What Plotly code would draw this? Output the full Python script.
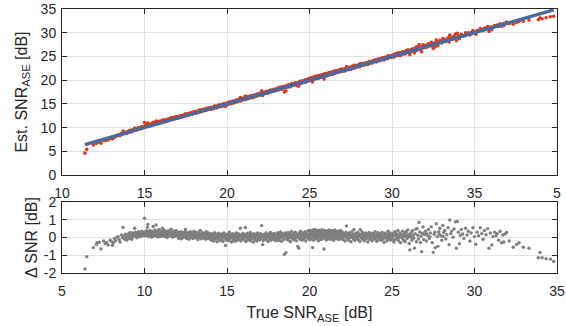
import plotly.graph_objects as go

# (true SNR_ASE [dB], delta SNR [dB]), segment by segment
seg_low = [
    (6.39, -1.77), (6.50, -1.08), (6.90, -0.57), (7.08, -0.40), (7.12, -0.30), (7.26, -0.27),
    (7.36, -0.65), (7.52, -0.20), (7.62, -0.35), (7.70, -0.28), (7.80, -0.42), (7.92, -0.15),
    (8.00, -0.22), (8.05, -0.44), (8.12, -0.30), (8.17, -0.05), (8.25, -0.18), (8.33, 0.02),
    (8.40, 0.05), (8.46, -0.12), (8.52, -0.25), (8.60, 0.14), (8.66, -0.02), (8.70, 0.57),
    (8.74, 0.08), (8.80, -0.10), (8.85, 0.18), (8.90, 0.02), (8.93, -0.15),
]
seg_9_12 = [
    (9.00, 0.10), (9.04, 0.22), (9.07, -0.05), (9.10, 0.15), (9.13, 0.28), (9.16, 0.02),
    (9.20, 0.18), (9.23, -0.10), (9.26, 0.12), (9.30, 0.25), (9.33, 0.05), (9.37, 0.20),
    (9.40, 0.52), (9.42, 0.08), (9.46, 0.30), (9.50, 0.14), (9.53, -0.02), (9.56, 0.22),
    (9.60, 0.10), (9.63, 0.33), (9.66, 0.18), (9.70, 0.04), (9.73, 0.26), (9.76, 0.12),
    (9.80, 0.20), (9.83, 0.35), (9.86, 0.08), (9.90, 0.16), (9.93, 0.28), (9.96, 0.11),
    (10.00, 1.08), (10.01, 0.19), (10.03, 0.30), (10.06, 0.10), (10.09, 0.24), (10.12, 0.38),
    (10.15, 0.14), (10.18, 0.57), (10.20, 0.74), (10.22, 0.22), (10.25, 0.05), (10.28, 0.31),
    (10.31, 0.17), (10.34, 0.40), (10.37, 0.12), (10.40, 0.26), (10.43, 0.02), (10.46, 0.35),
    (10.49, 0.20), (10.52, 0.62), (10.55, 0.15), (10.58, 0.29), (10.61, 0.08), (10.64, 0.42),
    (10.67, 0.22), (10.70, 0.70), (10.72, 0.11), (10.75, 0.33), (10.78, 0.18), (10.81, 0.03),
    (10.84, 0.27), (10.87, 0.45), (10.90, 0.14), (10.93, 0.24), (10.96, 0.06), (10.99, 0.36),
    (11.02, 0.19), (11.05, 0.28), (11.08, 0.52), (11.10, 0.10), (11.13, 0.31), (11.16, 0.16),
    (11.19, 0.42), (11.22, 0.05), (11.25, 0.23), (11.28, 0.34), (11.31, 0.12), (11.34, 0.27),
    (11.37, 0.00), (11.40, 0.20), (11.43, 0.38), (11.46, 0.15), (11.49, 0.25), (11.52, 0.08),
    (11.55, 0.32), (11.58, 0.18), (11.61, 0.46), (11.64, 0.11), (11.67, 0.26), (11.70, 0.02),
    (11.73, 0.21), (11.76, 0.35), (11.79, 0.13), (11.82, 0.28), (11.85, 0.06), (11.88, 0.19),
    (11.91, 0.40), (11.94, 0.16), (11.97, 0.24),
]
seg_12_16 = [
    (12.00, 0.10), (12.03, 0.30), (12.06, -0.05), (12.09, 0.18), (12.12, 0.25), (12.15, 0.04),
    (12.18, 0.14), (12.21, 0.33), (12.24, -0.08), (12.27, 0.20), (12.30, 0.09), (12.33, 0.27),
    (12.36, 0.01), (12.39, 0.16), (12.42, 0.30), (12.45, 0.07), (12.48, 0.45), (12.51, 0.22),
    (12.54, -0.04), (12.57, 0.13), (12.60, 0.28), (12.63, 0.05), (12.66, 0.19), (12.69, -0.10),
    (12.72, 0.24), (12.75, 0.11), (12.78, 0.32), (12.81, 0.02), (12.84, 0.17), (12.87, 0.08),
    (12.90, 0.26), (12.93, -0.06), (12.96, 0.14), (12.99, 0.36), (13.02, 0.06), (13.05, 0.21),
    (13.08, -0.02), (13.11, 0.12), (13.14, 0.29), (13.17, 0.03), (13.20, 0.18), (13.23, -0.12),
    (13.26, 0.23), (13.29, 0.09), (13.32, 0.31), (13.35, 0.00), (13.38, 0.40), (13.41, 0.15),
    (13.44, -0.07), (13.47, 0.20), (13.50, 0.07), (13.53, 0.27), (13.56, -0.03), (13.59, 0.12),
    (13.62, 0.24), (13.65, 0.04), (13.68, 0.17), (13.71, -0.10), (13.74, 0.33), (13.77, 0.08),
    (13.80, 0.19), (13.83, -0.05), (13.86, 0.13), (13.89, 0.26), (13.92, 0.01), (13.95, 0.16),
    (13.98, -0.08),
    (14.01, 0.10), (14.04, -0.15), (14.07, 0.22), (14.10, 0.02), (14.13, -0.06), (14.16, 0.16),
    (14.19, -0.20), (14.22, 0.08), (14.25, 0.27), (14.28, -0.10), (14.31, 0.05), (14.34, 0.18),
    (14.37, -0.03), (14.40, -0.24), (14.43, 0.12), (14.46, 0.00), (14.49, 0.24), (14.52, -0.12),
    (14.55, 0.07), (14.58, 0.15), (14.61, -0.18), (14.64, 0.03), (14.67, 0.20), (14.70, -0.07),
    (14.73, 0.11), (14.76, -0.22), (14.79, 0.06), (14.82, 0.25), (14.85, -0.02), (14.88, 0.14),
    (14.91, -0.45), (14.94, -0.14), (14.97, 0.09), (15.00, 0.19), (15.03, -0.05), (15.06, 0.04),
    (15.09, -0.19), (15.12, 0.13), (15.15, 0.30), (15.18, -0.09), (15.21, 0.01), (15.24, 0.17),
    (15.27, -0.25), (15.30, 0.07), (15.33, -0.02), (15.36, 0.22), (15.39, -0.13), (15.42, 0.10),
    (15.45, 0.03), (15.48, -0.21), (15.51, 0.15), (15.54, -0.06), (15.57, 0.26), (15.60, 0.05),
    (15.63, -0.16), (15.66, 0.12), (15.69, -0.01), (15.72, 0.20), (15.75, -0.10), (15.78, 0.08),
    (15.81, 0.52), (15.84, -0.20), (15.87, 0.14), (15.90, 0.02), (15.93, -0.08), (15.96, 0.23),
    (15.99, 0.06),
]
seg_16_20 = [
    (16.02, -0.12), (16.05, 0.18), (16.08, 0.04), (16.11, 0.56), (16.14, -0.22), (16.17, 0.10),
    (16.20, -0.03), (16.23, 0.24), (16.26, -0.15), (16.29, 0.07), (16.32, 0.16), (16.35, -0.08),
    (16.38, 0.01), (16.41, 0.28), (16.44, -0.18), (16.47, 0.12), (16.50, -0.05), (16.53, 0.19),
    (16.56, 0.03), (16.59, -0.26), (16.62, 0.09), (16.65, 0.21), (16.68, -0.11), (16.71, 0.05),
    (16.74, -0.02), (16.77, 0.17), (16.80, -0.20), (16.83, 0.11), (16.86, 0.26), (16.89, -0.07),
    (16.92, 0.02), (16.95, 0.14), (16.98, -0.14), (17.01, 0.08), (17.04, 0.22), (17.07, -0.04),
    (17.10, 0.67), (17.13, 0.13), (17.16, -0.40), (17.19, -0.18), (17.22, 0.05), (17.25, 0.19),
    (17.28, -0.09), (17.31, 0.10), (17.34, 0.00), (17.37, 0.25), (17.40, -0.13), (17.43, 0.06),
    (17.46, 0.16), (17.49, -0.23), (17.52, 0.03), (17.55, 0.20), (17.58, -0.06), (17.61, 0.12),
    (17.64, 0.29), (17.67, -0.16), (17.70, 0.07), (17.73, -0.01), (17.76, 0.18), (17.79, -0.10),
    (17.82, 0.09), (17.85, 0.23), (17.88, -0.04), (17.91, 0.13), (17.94, -0.19), (17.97, 0.04),
    (18.00, 0.15), (18.03, -0.08), (18.06, 0.27), (18.09, 0.02), (18.12, -0.17), (18.15, 0.19),
    (18.18, 0.08), (18.21, -0.05), (18.24, 0.31), (18.27, 0.11), (18.30, -0.21), (18.33, 0.05),
    (18.36, 0.22), (18.39, -0.02), (18.42, 0.14), (18.45, -0.12), (18.48, -0.95), (18.51, 0.25),
    (18.54, 0.07), (18.57, -0.85), (18.60, 0.17), (18.63, -0.09), (18.66, 0.03), (18.69, 0.29),
    (18.72, -0.16), (18.75, 0.12), (18.78, 0.00), (18.81, 0.21), (18.84, -0.24), (18.87, 0.09),
    (18.90, 0.34), (18.93, -0.04), (18.96, 0.16), (18.99, 0.04), (19.02, -0.13), (19.05, 0.24),
    (19.08, 0.10), (19.11, -0.07), (19.14, 0.30), (19.17, 0.06), (19.20, -0.19), (19.23, 0.18),
    (19.26, 0.01), (19.29, -0.50), (19.32, 0.13), (19.35, -0.60), (19.38, 0.27), (19.41, -0.10),
    (19.44, 0.08), (19.47, 0.36), (19.50, -0.02), (19.53, 0.19), (19.56, -0.15), (19.59, 0.11),
    (19.62, 0.26), (19.65, -0.06), (19.68, 0.15), (19.71, 0.03), (19.74, 0.32), (19.77, -0.20),
    (19.80, 0.09), (19.83, 0.21), (19.86, -0.03), (19.89, 0.13), (19.92, 0.38), (19.95, 0.05),
    (19.98, -0.11),
]
seg_20_22 = [
    (20.00, 0.22), (20.02, 0.05), (20.04, 0.40), (20.06, -0.10), (20.08, 0.16), (20.10, 0.30),
    (20.12, -0.02), (20.14, 0.25), (20.16, 0.09), (20.18, -0.57), (20.20, 0.43), (20.22, 0.12),
    (20.24, -0.15), (20.26, 0.20), (20.28, 0.35), (20.30, 0.02), (20.32, 0.18), (20.34, 0.45),
    (20.36, -0.08), (20.38, 0.27), (20.40, 0.10), (20.42, 0.38), (20.44, -0.05), (20.46, 0.14),
    (20.48, 0.31), (20.50, 0.06), (20.52, 0.23), (20.54, -0.18), (20.56, 0.41), (20.58, 0.11),
    (20.60, 0.28), (20.62, 0.00), (20.64, 0.19), (20.66, 0.36), (20.68, -0.12), (20.70, 0.15),
    (20.72, 0.26), (20.74, 0.04), (20.76, 0.44), (20.78, 0.13), (20.80, -0.07), (20.82, 0.22),
    (20.84, 0.33), (20.86, 0.08), (20.88, -0.65), (20.90, 0.17), (20.92, 0.40), (20.94, -0.02),
    (20.96, 0.25), (20.98, 0.10), (21.00, 0.32), (21.02, -0.14), (21.04, 0.19), (21.06, 0.06),
    (21.08, 0.37), (21.10, 0.14), (21.12, -0.04), (21.14, 0.28), (21.16, 0.09), (21.18, 0.43),
    (21.20, 0.18), (21.22, -0.10), (21.24, 0.23), (21.26, 0.02), (21.28, 0.34), (21.30, 0.12),
    (21.32, 0.26), (21.34, -0.06), (21.36, 0.16), (21.38, 0.39), (21.40, 0.07), (21.42, 0.21),
    (21.44, -0.16), (21.46, 0.30), (21.48, 0.11), (21.50, 0.03), (21.52, 0.24), (21.54, 0.42),
    (21.56, 0.08), (21.58, -0.08), (21.60, 0.19), (21.62, 0.33), (21.64, 0.05), (21.66, 0.15),
    (21.68, 0.27), (21.70, -0.03), (21.72, 0.12), (21.74, 0.36), (21.76, 0.20), (21.78, -0.12),
    (21.80, 0.09), (21.82, 0.29), (21.84, 0.01), (21.86, 0.17), (21.88, 0.40), (21.90, 0.06),
    (21.92, 0.22), (21.94, -0.07), (21.96, 0.14), (21.98, 0.31),
]
seg_22_25 = [
    (22.00, 0.10), (22.03, -0.12), (22.06, 0.24), (22.09, 0.04), (22.12, 0.17), (22.15, -0.20),
    (22.18, 0.08), (22.21, 0.30), (22.24, 0.65), (22.27, -0.04), (22.30, 0.13), (22.33, 0.22),
    (22.36, -0.15), (22.39, 0.06), (22.42, 0.27), (22.45, -0.02), (22.48, 0.15), (22.51, -0.24),
    (22.54, 0.09), (22.57, 0.33), (22.60, 0.01), (22.63, 0.19), (22.66, -0.09), (22.69, 0.45),
    (22.72, 0.11), (22.75, -0.17), (22.78, 0.05), (22.81, 0.25), (22.84, -0.05), (22.87, 0.14),
    (22.90, 0.02), (22.93, 0.28), (22.96, -0.13), (22.99, 0.07), (23.02, 0.20), (23.05, -0.22),
    (23.08, 0.44), (23.11, 0.10), (23.14, -0.03), (23.17, 0.16), (23.20, 0.31), (23.23, -0.10),
    (23.26, 0.04), (23.29, 0.21), (23.32, -0.18), (23.35, 0.12), (23.38, 0.00), (23.41, 0.26),
    (23.44, -0.07), (23.47, 0.09), (23.50, 0.18), (23.53, -0.25), (23.56, 0.03), (23.59, 0.14),
    (23.62, 0.29), (23.65, -0.11), (23.68, 0.06), (23.71, 0.20), (23.74, -0.02), (23.77, 0.11),
    (23.80, -0.19), (23.83, 0.24), (23.86, 0.01), (23.89, 0.15), (23.92, -0.08), (23.95, 0.08),
    (23.98, 0.32), (24.01, -0.04), (24.04, 0.13), (24.07, -0.21), (24.10, 0.19), (24.13, 0.05),
    (24.16, 0.27), (24.19, -0.13), (24.22, 0.09), (24.25, -0.01), (24.28, 0.22), (24.31, 0.12),
    (24.34, -0.16), (24.37, 0.03), (24.40, 0.30), (24.43, 0.07), (24.46, -0.09), (24.49, 0.16),
    (24.52, -0.27), (24.55, 0.10), (24.58, 0.24), (24.61, -0.03), (24.64, 0.14), (24.67, 0.04),
    (24.70, -0.18), (24.73, 0.20), (24.76, 0.35), (24.79, -0.06), (24.82, 0.11), (24.85, 0.02),
    (24.88, 0.26), (24.91, -0.14), (24.94, 0.08), (24.97, 0.17),
]
seg_25_29 = [
    (25.00, -0.05), (25.02, 0.15), (25.04, 0.22), (25.08, 0.08), (25.10, -0.14), (25.12, -0.25),
    (25.16, 0.33), (25.20, 0.12), (25.22, 0.28), (25.24, -0.10), (25.28, 0.18), (25.30, 0.05),
    (25.32, 0.02), (25.36, 0.40), (25.40, -0.18), (25.42, -0.02), (25.44, 0.09), (25.48, 0.25),
    (25.50, 0.19), (25.52, -0.30), (25.56, 0.14), (25.60, 0.00), (25.62, 0.10), (25.64, 0.36),
    (25.68, -0.12), (25.72, 0.20), (25.74, -0.20), (25.76, 0.06), (25.80, -0.22), (25.84, 0.29),
    (25.86, 0.34), (25.88, 0.11), (25.92, -0.06), (25.96, 0.43), (25.98, 0.02), (26.00, 0.16),
    (26.04, -0.34), (26.08, -0.70), (26.10, 0.18), (26.12, 0.04), (26.16, 0.27), (26.20, -0.15),
    (26.24, 0.38), (26.26, -0.05), (26.28, 0.10), (26.32, -0.02), (26.36, -0.60), (26.40, 0.21),
    (26.44, 0.47), (26.48, -0.24), (26.52, 0.50), (26.56, 0.13), (26.60, -0.08), (26.64, 0.85),
    (26.68, 0.31), (26.72, -0.28), (26.76, 0.07), (26.80, -0.80), (26.84, 0.24), (26.88, 0.59),
    (26.92, -0.12), (26.96, 0.17),
    (27.02, 0.35), (27.08, -0.20), (27.10, 0.22), (27.14, 0.12), (27.20, 0.45), (27.26, -0.05),
    (27.30, 0.05), (27.32, 0.25), (27.38, 0.60), (27.44, -0.30), (27.50, -0.84), (27.56, 0.18),
    (27.60, 0.30), (27.62, -0.57), (27.68, 0.77), (27.74, 0.05), (27.78, -0.50), (27.84, 0.32),
    (27.85, 0.20), (27.90, 0.52), (27.96, 0.10), (28.02, -0.15), (28.08, 0.68), (28.10, 0.06),
    (28.14, 0.28), (28.20, 0.40), (28.26, -0.08), (28.32, 0.15), (28.40, 0.55), (28.46, -0.40),
    (28.50, 0.99), (28.56, 0.22), (28.62, 0.36), (28.70, 0.02), (28.76, 0.48), (28.84, 0.88),
    (28.90, -0.60), (28.96, 0.90), (29.02, 0.30), (29.08, -0.35), (29.14, 0.12),
]
seg_high = [
    (29.20, 0.45), (29.28, 0.20), (29.36, -0.05), (29.46, 0.52), (29.55, 0.14), (29.62, 0.35),
    (29.72, -0.20), (29.80, 0.25), (29.90, 0.55), (30.00, 0.05), (30.08, -0.38), (30.16, 0.30),
    (30.25, 0.10), (30.35, 0.55), (30.44, 0.22), (30.52, -0.10), (30.60, 0.40), (30.70, 0.15),
    (30.80, 0.50), (30.88, -0.60), (30.96, 0.25), (31.05, -0.42), (31.12, 0.05), (31.22, 0.30),
    (31.30, 0.10), (31.38, 0.22), (31.46, -0.15), (31.55, 0.35), (31.64, -0.30), (31.72, 0.14),
    (31.78, -0.25), (31.86, 0.20), (31.95, 0.29), (32.10, -0.20), (32.35, -0.55), (32.55, -0.39),
    (32.70, -0.30), (32.96, -0.55), (33.30, -0.60), (33.87, -1.14), (33.97, -0.84), (34.10, -1.14),
    (34.34, -1.20), (34.60, -1.22), (34.80, -1.35),
]

samples = seg_low + seg_9_12 + seg_12_16 + seg_16_20 + seg_20_22 + seg_22_25 + seg_25_29 + seg_high
true_snr = [p[0] for p in samples]
delta_snr = [p[1] for p in samples]
est_snr = [t + d for t, d in zip(true_snr, delta_snr)]
ref_line = sorted(true_snr)

x_tickvals = [5, 10, 15, 20, 25, 30, 35]
top_x_ticktext = ["10", "15", "20", "25", "30", "35", "5"]
bottom_x_ticktext = ["5", "10", "15", "20", "25", "30", "35"]
top_y_tickvals = [0, 5, 10, 15, 20, 25, 30, 35]
bottom_y_tickvals = [-2, -1, 0, 1, 2]
bottom_y_ticktext = ["-2", "-1", "0", "1", "2"]

FONT = "Liberation Sans, Arial, Helvetica, sans-serif"
INK = "#262626"
GRID = "#e3e3e3"
RED = "#e0391b"
BLUE = "#4a6a9e"
GREY = "#7f7f7f"

fig = go.Figure()
fig.add_trace(go.Scatter(x=true_snr, y=est_snr, mode="markers",
                         marker=dict(color=RED, size=3.6, line=dict(width=0)),
                         xaxis="x", yaxis="y", showlegend=False))
fig.add_trace(go.Scatter(x=ref_line, y=ref_line, mode="lines",
                         line=dict(color=BLUE, width=3.4),
                         xaxis="x", yaxis="y", showlegend=False))
fig.add_trace(go.Scatter(x=true_snr, y=delta_snr, mode="markers",
                         marker=dict(color=GREY, size=3.4, line=dict(width=0)),
                         xaxis="x2", yaxis="y2", showlegend=False))

axis_common = dict(showline=True, linecolor=INK, linewidth=1, mirror="ticks",
                   ticks="inside", ticklen=5, tickcolor=INK, tickwidth=1,
                   showgrid=True, gridcolor=GRID, gridwidth=1, zeroline=False,
                   automargin=False, ticklabeloverflow="allow",
                   tickfont=dict(family=FONT, size=14, color=INK))

fig.update_layout(
    width=566, height=326,
    margin=dict(l=62, r=9, t=9, b=53),
    paper_bgcolor="white", plot_bgcolor="white",
    hovermode=False,
    font=dict(family=FONT, color=INK),
    xaxis=dict(axis_common, domain=[0, 1], range=[5, 35], tickvals=x_tickvals,
               ticktext=top_x_ticktext, anchor="y", ticklabelstandoff=5),
    yaxis=dict(axis_common, domain=[0.371, 1], range=[0, 35], tickvals=top_y_tickvals,
               anchor="x", ticklabelstandoff=2,
               title=dict(text="Est. SNR<sub>ASE</sub> [dB]", standoff=9,
                          font=dict(family=FONT, size=16, color=INK))),
    xaxis2=dict(axis_common, domain=[0, 1], range=[5, 35], tickvals=x_tickvals,
                ticktext=bottom_x_ticktext, anchor="y2", ticklabelstandoff=5,
                title=dict(text="True SNR<sub>ASE</sub> [dB]", standoff=9,
                           font=dict(family=FONT, size=16, color=INK))),
    yaxis2=dict(axis_common, domain=[0, 0.269], range=[-2, 2], tickvals=bottom_y_tickvals,
                ticktext=bottom_y_ticktext, anchor="x2", ticklabelstandoff=2,
                title=dict(text="Δ SNR [dB]", standoff=2,
                           font=dict(family=FONT, size=16, color=INK))),
)

# Remove the page's default 8px body margin so the figure fills the window exactly.
fig.write_html("out.html", config={"displayModeBar": False},
               post_script="document.body.style.margin='0';")
